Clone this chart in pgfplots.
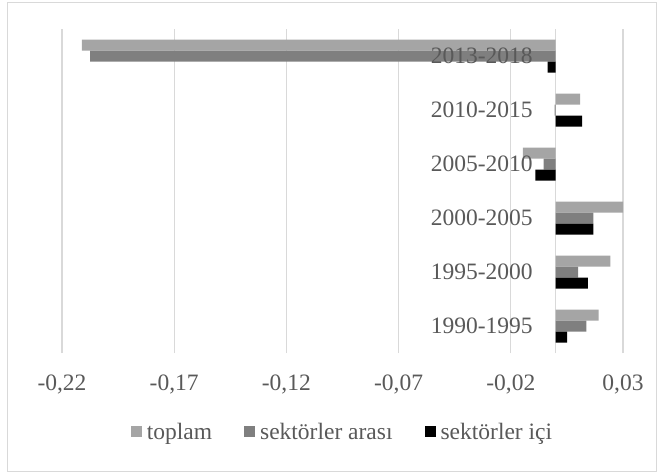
\documentclass[border=0pt]{standalone}
\usepackage{fontspec}
\setmainfont{Liberation Serif}
\usepackage{pgfplots}
\pgfplotsset{compat=1.18}
\definecolor{ctop}{HTML}{A5A5A5}
\definecolor{carasi}{HTML}{7F7F7F}
\definecolor{cici}{HTML}{000000}
\definecolor{gridgray}{HTML}{D9D9D9}
\definecolor{txt}{HTML}{595959}
\pgfplotsset{
  common/.style={
    scale only axis,
    width=561pt, height=324pt,
    xmin=-0.22, xmax=0.03,
    ymin=-0.5, ymax=5.5,
    axis x line=bottom,
    axis y line=center,
    x axis line style={draw=none},
    major tick length=0pt,
    /pgf/number format/assume math mode=true,
    /pgf/number format/.cd, use comma, fixed, fixed zerofill, precision=2, /pgfplots/.cd,
    tick label style={font=\fontsize{23.5}{28}\selectfont, text=txt},
    xticklabel style={yshift=-14pt},
    yticklabel style={xshift=-15pt},
  }
}
\begin{document}
\fontsize{23.5}{28}\selectfont
\begin{tikzpicture}
\useasboundingbox (-62pt,-121pt) rectangle (602pt,353pt);
\draw[gridgray, line width=1pt] (-54.5pt,-118.5pt) rectangle (594.5pt,350.5pt);
\begin{axis}[
  common,
  xbar, bar width=11pt,
  y axis line style={-, draw=gridgray, line width=1.3pt},
  xtick={-0.22,-0.17,-0.12,-0.07,-0.02,0.03},
  ytick=\empty,
  xmajorgrids,
  grid style={gridgray, line width=1.3pt},
  legend columns=3,
  legend style={draw=none, fill=none, at={(0.5,-0.247)}, anchor=center,
    font=\fontsize{23.5}{28}\selectfont, text=txt,
    /tikz/every even column/.append style={column sep=30pt},
    /tikz/every odd column/.append style={column sep=0pt}},
  legend image code/.code={\fill[#1] (0pt,-4pt) rectangle (11.3pt,7.3pt); \path (0pt,0pt) (14pt,0pt);},
]
\addplot[fill=ctop, draw=none, bar shift=11pt] coordinates {
  (0.0191,0) (0.0244,1) (0.0308,2) (-0.0146,3) (0.0109,4) (-0.2111,5)};
\addplot[fill=carasi, draw=none, bar shift=0pt] coordinates {
  (0.0137,0) (0.0100,1) (0.0168,2) (-0.0054,3) (-0.0005,4) (-0.2075,5)};
\addplot[fill=cici, draw=none, bar shift=-11pt] coordinates {
  (0.0051,0) (0.0143,1) (0.0168,2) (-0.0091,3) (0.0118,4) (-0.0036,5)};
\legend{toplam, sektörler arası, sektörler içi}
\end{axis}
\begin{axis}[
  common,
  y axis line style={draw=none},
  xtick=\empty,
  ytick={0,1,2,3,4,5},
  yticklabels={1990-1995,1995-2000,2000-2005,2005-2010,2010-2015,2013-2018},
]
\end{axis}
\end{tikzpicture}
\end{document}
